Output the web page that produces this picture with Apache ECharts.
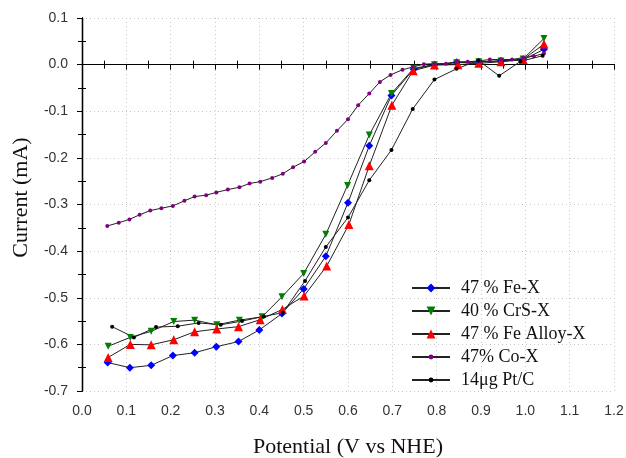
<!DOCTYPE html>
<html>
<head>
    <meta charset="utf-8">
    <title>Current vs Potential</title>
    <style>
        * { margin: 0; padding: 0; }
        html, body { width: 100%; height: 100%; background: #fff; }
        #main { width: 626px; height: 458px; }
    </style>
</head>
<body>
<div id="main"></div>
<script src="https://cdn.jsdelivr.net/npm/echarts@6/dist/echarts.min.js"></script>
<script>
    // values
    const feX = [0.058, 0.108, 0.156, 0.205, 0.254, 0.303, 0.353, 0.400, 0.451, 0.500, 0.550, 0.600, 0.648, 0.698, 0.748, 0.795, 0.845, 0.895, 0.945, 0.995, 1.042];
    const feY = [-0.639, -0.650, -0.645, -0.624, -0.618, -0.605, -0.594, -0.569, -0.534, -0.481, -0.411, -0.296, -0.174, -0.066, -0.010, 0.000, 0.005, 0.006, 0.008, 0.010, 0.033];

    const crsX = [0.059, 0.109, 0.156, 0.207, 0.254, 0.304, 0.355, 0.406, 0.451, 0.500, 0.550, 0.599, 0.648, 0.698, 0.748, 0.795, 0.845, 0.895, 0.945, 0.995, 1.042];
    const crsY = [-0.604, -0.585, -0.572, -0.551, -0.548, -0.558, -0.548, -0.541, -0.498, -0.448, -0.364, -0.259, -0.151, -0.062, -0.008, 0.000, 0.004, 0.006, 0.008, 0.012, 0.056];

    const alloyX = [0.059, 0.109, 0.156, 0.207, 0.254, 0.304, 0.353, 0.402, 0.452, 0.501, 0.552, 0.602, 0.648, 0.699, 0.747, 0.795, 0.848, 0.895, 0.945, 0.995, 1.042];
    const alloyY = [-0.628, -0.600, -0.601, -0.590, -0.573, -0.567, -0.562, -0.547, -0.525, -0.496, -0.432, -0.343, -0.217, -0.087, -0.013, -0.001, 0.000, 0.003, 0.006, 0.011, 0.044];

    const coX = [0.057, 0.083, 0.107, 0.130, 0.154, 0.179, 0.205, 0.231, 0.254, 0.280, 0.303, 0.329, 0.355, 0.378, 0.402, 0.429, 0.453, 0.476, 0.501, 0.526, 0.550,
        0.575, 0.600, 0.623, 0.648, 0.672, 0.696, 0.723, 0.746, 0.771, 0.795, 0.821, 0.845, 0.870, 0.895, 0.920, 0.945, 0.970, 0.995, 1.019, 1.042];
    const coY = [-0.346, -0.339, -0.332, -0.322, -0.313, -0.308, -0.303, -0.292, -0.283, -0.280, -0.274, -0.268, -0.263, -0.255, -0.251, -0.243, -0.234, -0.220, -0.208, -0.187, -0.168,
        -0.142, -0.117, -0.087, -0.062, -0.037, -0.022, -0.011, -0.005, 0.001, 0.002, 0.002, 0.006, 0.006, 0.008, 0.011, 0.011, 0.011, 0.015, 0.018, 0.024];

    const ptX = [0.068, 0.117, 0.167, 0.216, 0.263, 0.313, 0.361, 0.410, 0.453, 0.503, 0.550, 0.600, 0.648, 0.698, 0.746, 0.795, 0.845, 0.894, 0.941, 0.989, 1.039];
    const ptY = [-0.562, -0.585, -0.563, -0.561, -0.554, -0.558, -0.550, -0.540, -0.532, -0.464, -0.391, -0.328, -0.248, -0.183, -0.095, -0.032, -0.009, 0.009, -0.024, 0.007, 0.019];

    const names = ['47 % Fe-X', '40 % CrS-X', '47 % Fe Alloy-X', '47% Co-X', '14\u03bcg Pt/C'];

    const pairs = (xs, ys) => xs.map((x, i) => [x, ys[i]]);
    const fmt = v => v.toFixed(1);
    const serif = '"Liberation Serif", "DejaVu Serif", serif';
    const sans = '"Liberation Sans", Arial, sans-serif';

    const lineSeries = (name, xs, ys, color, symbol, size, rotate) => ({
        name: name,
        type: 'line',
        data: pairs(xs, ys),
        symbol: symbol,
        symbolSize: size,
        symbolRotate: rotate || 0,
        showAllSymbol: true,
        lineStyle: { color: '#222', width: 1 },
        itemStyle: { color: color },
        emphasis: { disabled: true }
    });

    const tickAxis = (extra) => Object.assign({
        type: 'value',
        axisLine: { show: true, lineStyle: { color: '#000', width: 1.2 } },
        axisLabel: { show: false },
        axisTick: { show: true, inside: true, length: 4, lineStyle: { color: '#000' } },
        minorTick: { show: true, splitNumber: 2, length: 4, lineStyle: { color: '#000' } },
        splitLine: { show: false }
    }, extra);

    // two legends so the small round markers keep a small icon
    const legendBase = {
        orient: 'vertical',
        left: 406,
        itemWidth: 38,
        itemGap: 5,
        textStyle: { fontFamily: serif, fontSize: 18, color: '#111', padding: [0, 0, 0, 6] }
    };

    const chart = echarts.init(document.getElementById('main'), null, { renderer: 'canvas' });
    chart.setOption({
        animation: false,
        backgroundColor: '#fff',
        grid: { left: 82, right: 12, top: 18, bottom: 67, outerBoundsMode: 'none' },
        legend: [
            Object.assign({ top: 274, itemHeight: 11, data: names.slice(0, 3) }, legendBase),
            Object.assign({ top: 343, itemHeight: 6, data: names.slice(3) }, legendBase)
        ],
        xAxis: [{
            type: 'value',
            min: 0, max: 1.2, interval: 0.1,
            position: 'bottom',
            name: 'Potential (V vs NHE)',
            nameLocation: 'middle',
            nameGap: 45,
            nameTextStyle: { fontFamily: serif, fontSize: 22, color: '#111' },
            axisLine: { show: true, lineStyle: { color: '#000', width: 1.2 } },
            axisTick: { show: true, inside: false, length: 5, lineStyle: { color: '#000' } },
            axisLabel: { formatter: fmt, fontFamily: sans, fontSize: 14, color: '#333', margin: 13 },
            splitLine: { show: true, lineStyle: { color: '#c8c8c8', type: [1, 3] } }
        },
        tickAxis({ min: 0, max: 1.2, interval: 0.1, position: 'top' }),
        tickAxis({ min: 0, max: 1.2, interval: 0.1, position: 'bottom', axisTick: { show: false, inside: true } })
        ],
        yAxis: [{
            type: 'value',
            min: -0.7, max: 0.1, interval: 0.1,
            position: 'left',
            name: 'Current (mA)',
            nameLocation: 'middle',
            nameGap: 50,
            nameTextStyle: { fontFamily: serif, fontSize: 22, color: '#111', padding: [0, 0, 0, 14] },
            axisLine: { show: true, lineStyle: { color: '#000', width: 1.2 } },
            axisTick: { show: true, inside: false, length: 5, lineStyle: { color: '#000' } },
            axisLabel: { formatter: fmt, fontFamily: sans, fontSize: 14, color: '#333', margin: 14 },
            splitLine: { show: true, lineStyle: { color: '#c8c8c8', type: [1, 3] } }
        },
        tickAxis({ min: -0.7, max: 0.1, interval: 0.1, position: 'right' }),
        tickAxis({ min: -0.7, max: 0.1, interval: 0.1, position: 'left', axisTick: { show: false, inside: true } })
        ],
        series: [
            lineSeries(names[0], feX, feY, '#0000ff', 'diamond', 8),
            lineSeries(names[1], crsX, crsY, '#008000', 'triangle', 7, 180),
            lineSeries(names[2], alloyX, alloyY, '#ff0000', 'triangle', 9),
            lineSeries(names[3], coX, coY, '#800080', 'circle', 4),
            lineSeries(names[4], ptX, ptY, '#000000', 'circle', 4)
        ]
    });
</script>
</body>
</html>
